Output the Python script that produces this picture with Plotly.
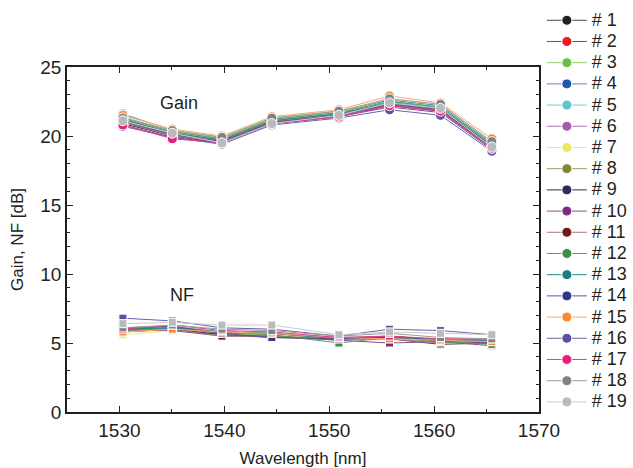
import plotly.graph_objects as go

wavelength = [1530.33, 1535.04, 1539.77, 1544.53, 1550.92, 1555.75, 1560.61, 1565.50]

series_names = ["# %d" % i for i in range(1, 20)]

marker_colors = ["#231f20", "#ed1c24", "#6cc04a", "#2158a8", "#5cc6d0", "#a55aab",
                 "#eeea5c", "#85843a", "#2b2c5e", "#7c2a84", "#6e1a1c", "#3c8c46",
                 "#1c7e7c", "#2e3886", "#f58a30", "#5c4ea2", "#ec1c7a", "#7f8184", "#b9babc"]
line_colors = ["#4a4a4a", "#ed1c24", "#8ad068", "#5a84c0", "#6ccdd6", "#b070b4",
               "#eeea7a", "#9a9a5c", "#2b2c5e", "#8a4a92", "#a87470", "#5aa060",
               "#2a8a88", "#5058a0", "#f8a870", "#6a60ac", "#ec3a88", "#9a9c9e", "#cacbcc"]

gain = [
    [21.0, 20.1, 19.6, 21.0, 21.5, 22.3, 21.9, 19.2],
    [21.2, 20.2, 19.7, 21.1, 21.6, 22.4, 22.0, 19.3],
    [21.3, 20.3, 19.8, 21.2, 21.7, 22.5, 22.1, 19.4],
    [21.6, 20.4, 19.9, 21.3, 21.8, 22.6, 22.2, 19.5],
    [21.4, 20.3, 19.8, 21.2, 21.7, 22.5, 22.1, 19.4],
    [21.1, 20.1, 19.6, 21.0, 21.5, 22.3, 21.9, 19.3],
    [21.5, 20.4, 19.9, 21.3, 21.8, 22.7, 22.3, 19.6],
    [21.2, 20.2, 19.7, 21.1, 21.6, 22.4, 22.0, 19.3],
    [20.9, 20.0, 19.5, 20.9, 21.4, 22.2, 21.8, 19.1],
    [20.8, 19.9, 19.5, 20.9, 21.4, 22.1, 21.7, 19.0],
    [21.0, 20.0, 19.6, 21.0, 21.5, 22.3, 21.9, 19.2],
    [21.3, 20.3, 19.8, 21.2, 21.7, 22.5, 22.1, 19.4],
    [21.2, 20.2, 19.7, 21.1, 21.6, 22.4, 22.0, 19.3],
    [21.1, 20.1, 19.6, 21.0, 21.5, 22.3, 21.9, 19.2],
    [21.5, 20.5, 20.0, 21.4, 21.9, 22.9, 22.4, 19.8],
    [20.7, 19.9, 19.4, 20.8, 21.3, 21.9, 21.5, 18.9],
    [20.8, 19.8, 19.5, 20.9, 21.4, 22.2, 21.8, 19.1],
    [21.3, 20.4, 19.9, 21.3, 21.8, 22.7, 22.3, 19.6],
    [21.1, 20.2, 19.5, 20.9, 21.5, 22.4, 22.0, 19.2],
]

nf = [
    [5.8, 6.0, 5.6, 5.6, 5.3, 5.3, 4.9, 5.0],
    [5.9, 6.1, 5.6, 5.5, 5.2, 5.4, 5.1, 5.1],
    [5.9, 6.0, 5.7, 5.6, 5.3, 5.4, 5.1, 5.1],
    [6.0, 6.2, 5.8, 5.7, 5.3, 5.5, 5.2, 5.2],
    [6.0, 6.1, 5.8, 5.7, 5.4, 5.5, 5.2, 5.2],
    [6.1, 6.2, 5.7, 5.6, 5.4, 5.4, 5.2, 5.1],
    [5.6, 5.9, 5.6, 5.6, 5.3, 5.3, 5.1, 5.1],
    [5.8, 6.0, 5.8, 5.7, 5.3, 5.4, 5.3, 5.2],
    [6.1, 6.0, 5.6, 5.4, 5.3, 5.4, 5.1, 5.0],
    [6.0, 5.9, 5.5, 5.5, 5.2, 5.0, 5.1, 4.8],
    [5.9, 6.0, 5.5, 5.5, 5.3, 5.3, 5.0, 5.1],
    [5.9, 6.1, 5.7, 5.6, 5.0, 5.4, 5.1, 4.9],
    [6.0, 6.1, 5.8, 5.7, 5.3, 5.5, 5.2, 5.1],
    [6.1, 6.2, 5.7, 5.4, 5.3, 5.5, 5.2, 5.2],
    [5.8, 6.0, 5.8, 5.7, 5.4, 5.3, 5.2, 5.1],
    [6.8, 6.6, 6.1, 6.0, 5.5, 6.0, 5.9, 5.6],
    [6.0, 6.3, 5.9, 5.8, 5.4, 5.5, 5.3, 5.3],
    [6.1, 6.3, 6.0, 5.9, 5.5, 5.7, 5.4, 5.3],
    [6.4, 6.5, 6.3, 6.3, 5.6, 5.8, 5.7, 5.6],
]

FONT = "Liberation Sans, Arial, sans-serif"
TXT = "#231f20"

fig = go.Figure()
for i, name in enumerate(series_names):
    fig.add_trace(go.Scatter(
        x=wavelength, y=gain[i], mode="lines+markers",
        name='<span style="font-size:18px">%s</span>' % name,
        legendgroup=name, showlegend=True,
        line=dict(color=line_colors[i], width=1),
        marker=dict(symbol="circle", size=10, color=marker_colors[i],
                    line=dict(color="white", width=1)),
    ))
for i, name in enumerate(series_names):
    fig.add_trace(go.Scatter(
        x=wavelength, y=nf[i], mode="lines+markers", name=name,
        legendgroup=name, showlegend=False,
        line=dict(color=line_colors[i], width=1),
        marker=dict(symbol="square", size=8, color=marker_colors[i],
                    line=dict(color="white", width=1)),
    ))

fig.add_annotation(x=1535.7, y=22.4, text="Gain", showarrow=False,
                   font=dict(family=FONT, size=18, color=TXT))
fig.add_annotation(x=1536.0, y=8.45, text="NF", showarrow=False,
                   font=dict(family=FONT, size=18, color=TXT))

axis_common = dict(
    showgrid=False, zeroline=False, showline=True, linecolor=TXT, linewidth=1.5,
    mirror="allticks", ticks="inside", ticklen=6, tickwidth=1, tickcolor=TXT,
    tickfont=dict(family=FONT, size=19, color=TXT), automargin=False,
)
fig.update_xaxes(range=[1525, 1570], dtick=10, tick0=1530,
                 minor=dict(dtick=5, ticks="inside", ticklen=3, tickcolor=TXT),
                 title=dict(text="Wavelength [nm]", font=dict(family=FONT, size=17, color=TXT), standoff=14),
                 **axis_common)
fig.update_yaxes(range=[0, 25], dtick=5,
                 minor=dict(dtick=1, ticks="inside", ticklen=3, tickcolor=TXT),
                 title=dict(text="Gain, NF [dB]", font=dict(family=FONT, size=17, color=TXT), standoff=12),
                 **axis_common)

fig.update_layout(
    width=633, height=468,
    margin=dict(l=67, r=94, t=67, b=56, autoexpand=False),
    paper_bgcolor="white", plot_bgcolor="white",
    font=dict(family=FONT, color=TXT),
    legend=dict(xref="container", yref="container", x=0.856, xanchor="left",
                y=0.99, yanchor="top",
                font=dict(family=FONT, size=14, color=TXT), maxheight=468,
                bgcolor="rgba(0,0,0,0)", tracegroupgap=0, itemwidth=40),
)

fig.write_html("out.html")
